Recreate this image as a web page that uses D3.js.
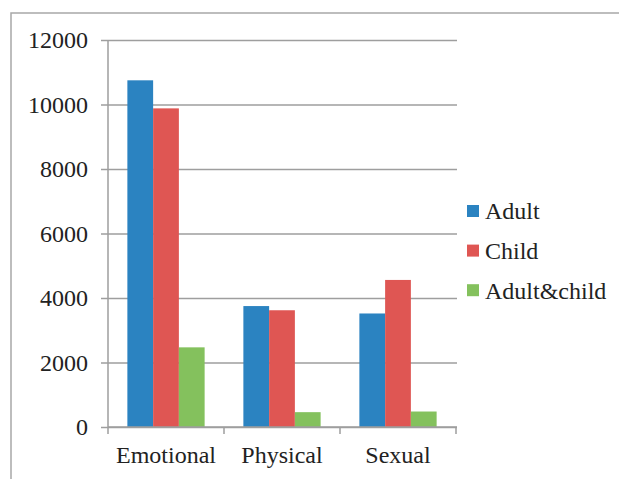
<!DOCTYPE html>
<html>
<head>
<meta charset="utf-8">
<script src="https://cdn.jsdelivr.net/npm/d3@7"></script>
<style>
  body { margin: 0; background: #fff; }
  svg text { font-family: "Liberation Serif", "Times New Roman", serif; fill: #222; }
</style>
</head>
<body>
<svg></svg>
<script>
// chart data
var categories = ["Emotional", "Physical", "Sexual"];
var seriesNames = ["Adult", "Child", "Adult&child"];
var adult = [10750, 3750, 3520];
var child = [9880, 3620, 4560];
var adultChild = [2470, 460, 480];
var yTicks = [0, 2000, 4000, 6000, 8000, 10000, 12000];

var colors = ["#2b83c1", "#df5653", "#84c15d"];
var seriesValues = [adult, child, adultChild];

var width = 619, height = 479;
var svg = d3.select("svg").attr("width", width).attr("height", height);

// outer frame (only top and left edges visible)
svg.append("path")
    .attr("d", "M11,479 L11,13 L619,13")
    .attr("fill", "none")
    .attr("stroke", "#a8a8a8")
    .attr("stroke-width", 1.5);

// plot area
var plotLeft = 108, plotRight = 456, plotTop = 40, plotBottom = 427;

var y = d3.scaleLinear().domain([0, 12000]).range([plotBottom, plotTop]);
var x0 = d3.scaleBand().domain(categories).range([plotLeft, plotRight]).padding(0);
var x1 = d3.scaleBand().domain(seriesNames)
    .range([x0.bandwidth() * 0.167, x0.bandwidth() * 0.833]).padding(0);

// gridlines + y labels
var yAxis = svg.append("g")
    .attr("transform", "translate(" + plotLeft + ",0)")
    .call(d3.axisLeft(y).tickValues(yTicks).tickFormat(d3.format("d"))
        .tickSize(-(plotRight - plotLeft + 1)).tickSizeOuter(0).tickPadding(20));
yAxis.select(".domain").remove();
yAxis.selectAll(".tick line")
    .attr("x1", -7)
    .attr("stroke", "#9e9e9e")
    .attr("stroke-width", 1.5);
yAxis.selectAll(".tick text")
    .attr("font-size", "24px")
    .attr("font-family", "Liberation Serif, serif")
    .attr("fill", "#222");

// y axis line
svg.append("line")
    .attr("x1", plotLeft).attr("x2", plotLeft)
    .attr("y1", plotTop).attr("y2", plotBottom)
    .attr("stroke", "#9e9e9e")
    .attr("stroke-width", 1.5);

// bars
var groups = svg.append("g").selectAll("g")
    .data(categories)
    .join("g")
    .attr("transform", d => "translate(" + x0(d) + ",0)");

groups.selectAll("rect")
    .data((c, i) => seriesNames.map((s, j) => ({ s: s, v: seriesValues[j][i], c: colors[j] })))
    .join("rect")
    .attr("x", d => x1(d.s))
    .attr("width", x1.bandwidth())
    .attr("y", d => y(d.v))
    .attr("height", d => plotBottom - y(d.v))
    .attr("fill", d => d.c);

// x axis
var xAxis = svg.append("g")
    .attr("transform", "translate(0," + plotBottom + ")")
    .call(d3.axisBottom(x0).tickSize(0).tickPadding(19));
xAxis.select(".domain").remove();
xAxis.selectAll(".tick text")
    .attr("font-size", "24px")
    .attr("font-family", "Liberation Serif, serif")
    .attr("fill", "#222");

svg.append("line")
    .attr("x1", plotLeft).attr("x2", plotRight + 1)
    .attr("y1", plotBottom).attr("y2", plotBottom)
    .attr("stroke", "#9e9e9e")
    .attr("stroke-width", 1.5);

// boundary ticks between categories
var edges = categories.map(c => x0(c)).concat([plotRight]);
svg.append("g").selectAll("line")
    .data(edges)
    .join("line")
    .attr("x1", d => d).attr("x2", d => d)
    .attr("y1", plotBottom).attr("y2", plotBottom + 7)
    .attr("stroke", "#9e9e9e")
    .attr("stroke-width", 1.5);

// legend
var legend = svg.append("g").selectAll("g")
    .data(seriesNames)
    .join("g")
    .attr("transform", (d, i) => "translate(467," + (211 + i * 39.6) + ")");

legend.append("rect")
    .attr("x", 0).attr("y", -6)
    .attr("width", 12).attr("height", 12)
    .attr("fill", (d, i) => colors[i]);

legend.append("text")
    .attr("x", 18)
    .attr("dy", "0.35em")
    .attr("font-size", "24px")
    .text(d => d);
</script>
</body>
</html>
